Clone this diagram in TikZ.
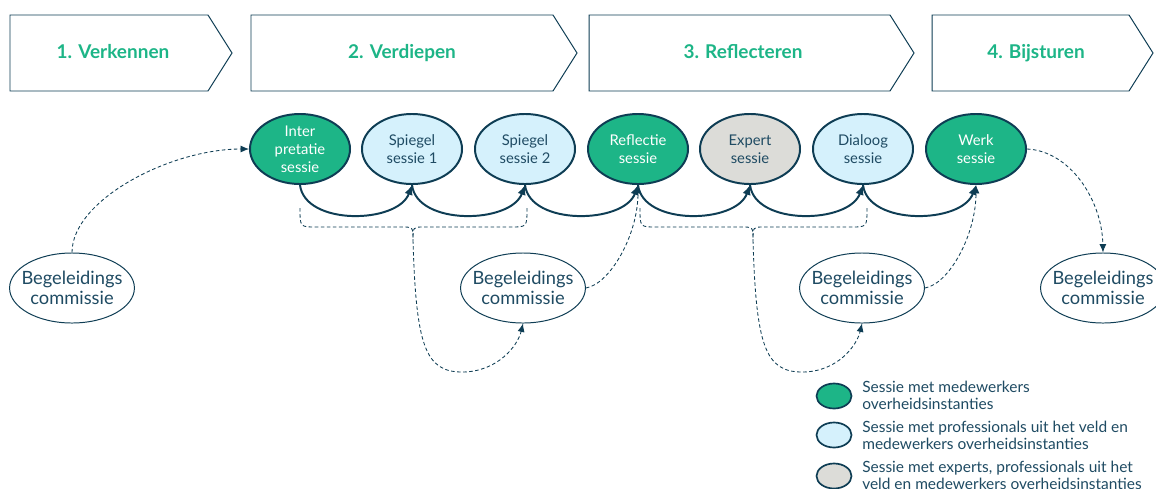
\documentclass[tikz,border=0pt]{standalone}
\usepackage{fontspec}
\setmainfont{Lato}
\usetikzlibrary{shapes.geometric,arrows.meta}
\definecolor{groen}{HTML}{1DB587}
\definecolor{lichtblauw}{HTML}{D5F1FC}
\definecolor{grijs}{HTML}{DCDCD8}
\definecolor{donker}{HTML}{0E3D54}
\definecolor{tekst}{HTML}{1F4B63}
\begin{document}
\begin{tikzpicture}[x=0.025cm,y=-0.025cm,
    fase/.style={draw=donker,line width=0.7pt},
    fasetekst/.style={anchor=base,text=groen,font=\fontsize{13.5}{16}\selectfont\bfseries},
    sessie/.style={ellipse,draw=donker,line width=1.4pt,minimum width=2.5cm,minimum height=1.75cm,inner sep=0pt,align=center,font=\fontsize{10.5}{12.8}\selectfont},
    groensessie/.style={sessie,fill=groen,text=white},
    blauwsessie/.style={sessie,fill=lichtblauw,text=tekst},
    grijssessie/.style={sessie,fill=grijs,text=tekst},
    commissie/.style={ellipse,draw=donker,line width=0.7pt,fill=white,minimum width=3.1cm,minimum height=1.75cm,inner ysep=0pt,inner xsep=-4.5pt,align=center,text=tekst,font=\fontsize{13}{14.5}\selectfont},
    pijl/.style={draw=donker,line width=1.4pt,-{Latex[length=7pt,width=6pt]}},
    stippel/.style={draw=donker,line width=0.6pt,dash pattern=on 2.5pt off 1.8pt},
    stippelpijl/.style={stippel,-{Latex[length=6pt,width=5pt]}},
    legenda/.style={ellipse,draw=donker,line width=1.2pt,minimum width=0.875cm,minimum height=0.625cm,inner sep=0pt},
    legendatekst/.style={anchor=west,align=left,text=tekst,font=\fontsize{11}{12}\selectfont,inner sep=0pt}]
        \useasboundingbox[fill=white] (0,0) rectangle (1156,488);
        \draw[fase] (10,15) -- (208,15) -- (232,53) -- (208,91) -- (10,91) -- cycle;
        \draw[fase] (251,15) -- (553,15) -- (577,53) -- (553,91) -- (251,91) -- cycle;
        \draw[fase] (589,15) -- (890,15) -- (914,53) -- (890,91) -- (589,91) -- cycle;
        \draw[fase] (932,15) -- (1129,15) -- (1153,53) -- (1129,91) -- (932,91) -- cycle;
        \node[fasetekst] (fase1) at (113,58) {1. Verkennen};
        \node[fasetekst] (fase2) at (402,58) {2. Verdiepen};
        \node[fasetekst] (fase3) at (743,58) {3. Reflecteren};
        \node[fasetekst] (fase4) at (1036,58) {4. Bijsturen};
        \node[groensessie] (inter) at (300,149) {Inter\\pretatie\\sessie};
        \node[blauwsessie] (spiegel1) at (412,149) {Spiegel\\sessie 1};
        \node[blauwsessie] (spiegel2) at (525,149) {Spiegel\\sessie 2};
        \node[groensessie] (reflectie) at (638,149) {Reflectie\\sessie};
        \node[grijssessie] (expert) at (750,149) {Expert\\sessie};
        \node[blauwsessie] (dialoog) at (863,149) {Dialoog\\sessie};
        \node[groensessie] (werk) at (976,149) {Werk\\sessie};
        \node[commissie] (bc1) at (72,288) {Begeleidings\\commissie};
        \node[commissie] (bc2) at (523,288) {Begeleidings\\commissie};
        \node[commissie] (bc3) at (862,288) {Begeleidings\\commissie};
        \node[commissie] (bc4) at (1103,288) {Begeleidings\\commissie};
        \draw[pijl] (inter.south) .. controls (305,226) and (398,224) .. (spiegel1.south);
        \draw[pijl] (spiegel1.south) .. controls (417,226) and (511,224) .. (spiegel2.south);
        \draw[pijl] (spiegel2.south) .. controls (530,226) and (624,224) .. (reflectie.south);
        \draw[pijl] (reflectie.south) .. controls (643,226) and (736,224) .. (expert.south);
        \draw[pijl] (expert.south) .. controls (755,226) and (849,224) .. (dialoog.south);
        \draw[pijl] (dialoog.south) .. controls (868,226) and (962,224) .. (werk.south);
        \coordinate (haak1a) at (300,208);
        \coordinate (haak1b) at (527,208);
        \coordinate (haak1) at (413,240);
        \coordinate (haak2a) at (640,208);
        \coordinate (haak2b) at (867,208);
        \coordinate (haak2) at (753,240);
        \draw[stippel] (haak1a) .. controls (300,227) .. (316,227) -- (402,227) .. controls (413,227) .. (haak1);
        \draw[stippel] (haak1b) .. controls (527,227) .. (511,227) -- (424,227) .. controls (413,227) .. (haak1);
        \draw[stippel] (haak2a) .. controls (640,227) .. (656,227) -- (742,227) .. controls (753,227) .. (haak2);
        \draw[stippel] (haak2b) .. controls (867,227) .. (851,227) -- (764,227) .. controls (753,227) .. (haak2);
        \draw[stippelpijl] (haak1) .. controls (416,345) and (425,372) .. (462,372) .. controls (498,372) and (518,345) .. (bc2.south);
        \draw[stippelpijl] (haak2) .. controls (756,345) and (765,372) .. (802,372) .. controls (838,372) and (857,345) .. (bc3.south);
        \draw[stippelpijl] (bc1.north) .. controls (72,200) and (170,149) .. (inter.west);
        \draw[stippelpijl] (bc2.east) .. controls (610,284) and (638,235) .. (reflectie.south);
        \draw[stippelpijl] (bc3.east) .. controls (949,284) and (976,235) .. (werk.south);
        \draw[stippelpijl] (werk.east) .. controls (1070,151) and (1102,200) .. (bc4.north);
        \node[legenda,fill=groen] (leg1) at (834,396) {};
        \node[legenda,fill=lichtblauw] (leg2) at (834,435) {};
        \node[legenda,fill=grijs] (leg3) at (834,476) {};
        \node[legendatekst] (legt1) at (862,395) {Sessie met medewerkers\\overheidsinstanties};
        \node[legendatekst] (legt2) at (862,435) {Sessie met professionals uit het veld en\\medewerkers overheidsinstanties};
        \node[legendatekst] (legt3) at (862,475) {Sessie met experts, professionals uit het\\veld en medewerkers overheidsinstanties};
\end{tikzpicture}
\end{document}
